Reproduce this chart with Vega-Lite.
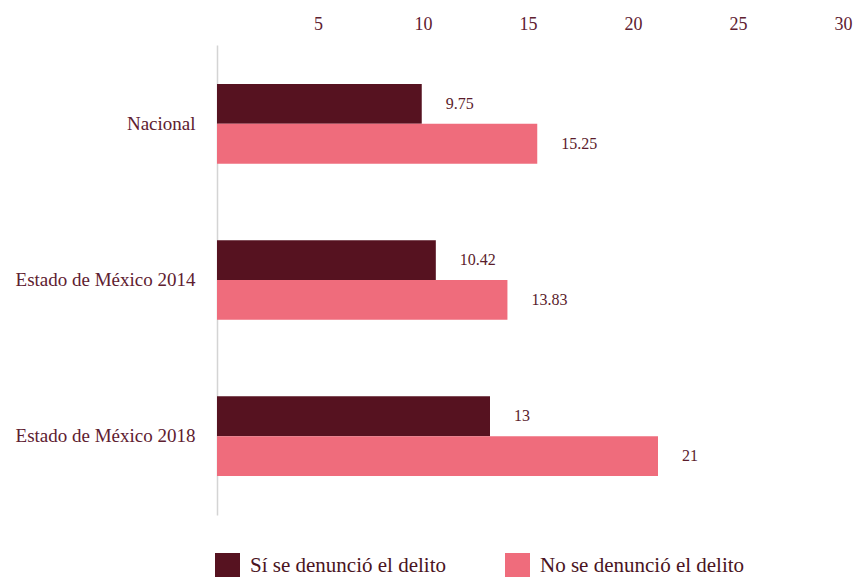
{
  "$schema": "https://vega.github.io/schema/vega-lite/v6.json",
  "autosize": "none",
  "width": 630,
  "height": 470,
  "padding": {"left": 217, "top": 45, "right": 11, "bottom": 62},
  "background": "white",
  "config": {"view": {"stroke": null}},
  "data": {"values": [
    {"grupo": "Nacional", "serie": "Sí se denunció el delito", "valor": 9.75, "etiqueta": "9.75"},
    {"grupo": "Nacional", "serie": "No se denunció el delito", "valor": 15.25, "etiqueta": "15.25"},
    {"grupo": "Estado de México 2014", "serie": "Sí se denunció el delito", "valor": 10.42, "etiqueta": "10.42"},
    {"grupo": "Estado de México 2014", "serie": "No se denunció el delito", "valor": 13.83, "etiqueta": "13.83"},
    {"grupo": "Estado de México 2018", "serie": "Sí se denunció el delito", "valor": 13, "etiqueta": "13"},
    {"grupo": "Estado de México 2018", "serie": "No se denunció el delito", "valor": 21, "etiqueta": "21"}
  ]},
  "encoding": {
    "y": {"field": "grupo", "type": "nominal", "sort": ["Nacional", "Estado de México 2014", "Estado de México 2018"],
      "scale": {"paddingInner": 0.49, "paddingOuter": 0.25},
      "axis": {"title": null, "ticks": false, "domain": true, "domainColor": "#d4d4d4", "domainWidth": 1.5,
        "labelFont": "Liberation Serif", "labelFontSize": 19, "labelColor": "#5e2030", "labelPadding": 22, "labelLimit": 300}},
    "yOffset": {"field": "serie", "type": "nominal", "sort": ["Sí se denunció el delito", "No se denunció el delito"], "scale": {"paddingInner": 0, "paddingOuter": 0}},
    "x": {"field": "valor", "type": "quantitative", "scale": {"domain": [0, 30], "nice": false},
      "axis": {"orient": "top", "title": null, "values": [5, 10, 15, 20, 25, 30], "domain": false, "ticks": false, "grid": false,
        "labelFlush": false, "labelOverlap": false,
        "labelFont": "Liberation Serif", "labelFontSize": 18, "labelColor": "#5e2030", "labelPadding": 12, "labelOffset": -4}}
  },
  "layer": [
    {"mark": {"type": "bar", "cornerRadius": 0},
      "encoding": {"color": {"field": "serie", "type": "nominal", "sort": ["Sí se denunció el delito", "No se denunció el delito"],
        "scale": {"range": ["#561220", "#ef6c7c"]},
        "legend": {"title": null, "orient": "none", "legendX": -2, "legendY": 508, "direction": "horizontal",
          "symbolType": "square", "symbolSize": 625, "symbolStrokeWidth": 0, "symbolOpacity": 1,
          "labelFont": "Liberation Serif", "labelFontSize": 21, "labelColor": "#4a1422", "labelOffset": 10,
          "columnPadding": 59, "labelLimit": 400}}}},
    {"mark": {"type": "text", "align": "left", "baseline": "middle", "dx": 24, "font": "Liberation Serif", "fontSize": 16, "color": "#5a1c2c"},
      "encoding": {"text": {"field": "etiqueta"}}}
  ]
}
